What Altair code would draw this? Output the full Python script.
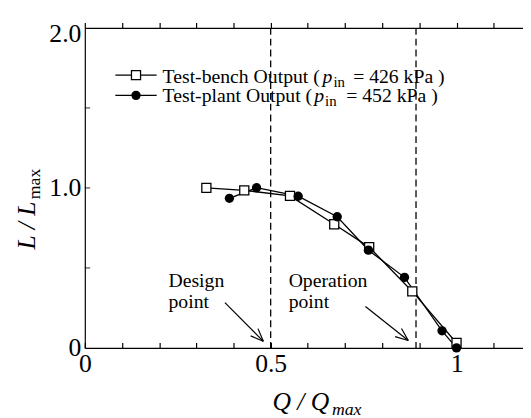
import altair as alt
import pandas as pd
import numpy as np

# ---------------- data ----------------
bench_q = [0.327, 0.429, 0.552, 0.671, 0.765, 0.881, 1.000]
bench_l = [1.000, 0.985, 0.950, 0.773, 0.630, 0.353, 0.031]
plant_q = [0.389, 0.462, 0.574, 0.679, 0.763, 0.860, 0.961, 1.000]
plant_l = [0.935, 1.001, 0.948, 0.820, 0.611, 0.441, 0.107, 0.000]
marker_q = [0.5, 0.891]                      # design / operation points

x_label_values = [0, 0.5, 1]
x_tick_values = [round(0.1 * i, 1) for i in range(12)]
y_label_values = [0, 1, 2]
y_tick_values = [0.5, 1.0, 1.5]

legend_names = ["Test-bench Output (", "Test-plant Output ("]
legend_pressures = [" = 426 kPa )", " = 452 kPa )"]
note_texts = ["Design\npoint", "Operation\npoint"]

# ---------------- layout ----------------
FONT = "Liberation Serif"
PAD_L, PAD_T, PAD_B = 78, 17, 70
W, H = 445, 325
PX_PER_Q = 377.5
PX_PER_L = 162.5
XMAX = W / PX_PER_Q


def q_at(px):
    return (px - (8 + PAD_L)) / PX_PER_Q


def l_at(py):
    return ((8 + PAD_T + H) - py) / PX_PER_L


x_scale = alt.Scale(domain=[0, XMAX], nice=False, zero=False)
y_scale = alt.Scale(domain=[0, 2], nice=False, zero=False)


def ex(field, axis=None):
    return alt.X(field, type="quantitative", scale=x_scale, axis=axis)


def ey(field, axis=None):
    return alt.Y(field, type="quantitative", scale=y_scale, axis=axis)


common_axis = dict(grid=False, title=None, domainColor="black", domainWidth=1.2,
                   tickColor="black", tickWidth=1.2)

ax_x_labels = alt.Axis(orient="bottom", values=x_label_values, format="~g", ticks=False,
                       tickSize=0, domain=True, labelFont=FONT, labelFontSize=26,
                       labelColor="black", labelPadding=3, labelFlush=False,
                       labelOverlap=False, **common_axis)
ax_y_labels = alt.Axis(orient="left", values=y_label_values,
                       labelExpr="datum.value == 0 ? '0' : format(datum.value, '.1f')",
                       ticks=False, tickSize=0, domain=True, labelFont=FONT,
                       labelFontSize=26, labelColor="black", labelPadding=4,
                       labelOverlap=False,
                       labelOffset={"condition": {"test": "datum.value == 2", "value": 6},
                                    "value": 0},
                       **common_axis)
ax_x_top = alt.Axis(orient="top", values=x_tick_values, labels=False, tickSize=5.5,
                    domain=True, **common_axis)
ax_x_bottom_ticks = alt.Axis(orient="top", offset=-H, values=x_tick_values, labels=False,
                             tickSize=5.5, domain=False, **common_axis)

bench = pd.DataFrame({"q": bench_q, "l": bench_l})
plant = pd.DataFrame({"q": plant_q, "l": plant_l})
marks_df = pd.DataFrame({"q": marker_q})

dashed = alt.Chart(marks_df).mark_rule(color="black", strokeWidth=1.3,
                                       strokeDash=[7, 4]).encode(x=ex("q", ax_x_top))

bench_line = alt.Chart(bench).mark_line(color="black", strokeWidth=1.3).encode(
    x=ex("q", ax_x_labels), y=ey("l", ax_y_labels))
plant_line = alt.Chart(plant).mark_line(color="black", strokeWidth=1.3).encode(
    x=ex("q", ax_x_bottom_ticks), y=ey("l"))
bench_pts = alt.Chart(bench).mark_point(shape="square", filled=True, fill="white",
                                        stroke="black", strokeWidth=1.3, size=85,
                                        opacity=1).encode(x=ex("q"), y=ey("l"))
plant_pts = alt.Chart(plant).mark_point(shape="circle", filled=True, color="black",
                                        size=90, opacity=1).encode(x=ex("q"), y=ey("l"))

# inward ticks on the left axis
y_ticks_layer = alt.Chart(pd.DataFrame({"l": y_tick_values})).mark_tick(
    orient="horizontal", color="black", thickness=1.2, size=5.5).encode(
    x=alt.value(2.75), y=ey("l"))

# ---------------- arrows ----------------
arrow_px = [((228.3, 304.0), (267.3, 343.3)), ((371.0, 308.0), (414.5, 342.5))]
segs = []
for (sx, sy), (tx, ty) in arrow_px:
    segs.append((sx, sy, tx, ty))
    ang = np.arctan2(sy - ty, sx - tx)
    for s in (-1, 1):
        a = ang + s * np.radians(22)
        segs.append((tx, ty, tx + 14 * np.cos(a), ty + 14 * np.sin(a)))
arrows = pd.DataFrame({
    "q": [q_at(s[0]) for s in segs], "l": [l_at(s[1]) for s in segs],
    "q2": [q_at(s[2]) for s in segs], "l2": [l_at(s[3]) for s in segs]})
arrow_layer = alt.Chart(arrows).mark_rule(color="black", strokeWidth=1.2).encode(
    x=ex("q"), y=ey("l"), x2="q2", y2="l2")

# ---------------- legend ----------------
row_y = [73, 93.5]
leg_lines = pd.DataFrame({"q": [q_at(117)] * 2, "q2": [q_at(159)] * 2,
                          "l": [l_at(y) for y in row_y]})
leg_line_layer = alt.Chart(leg_lines).mark_rule(color="black", strokeWidth=1.3).encode(
    x=ex("q"), x2="q2", y=ey("l"))
leg_bench = alt.Chart(pd.DataFrame({"q": [q_at(138)], "l": [l_at(row_y[0])]})).mark_point(
    shape="square", filled=True, fill="white", stroke="black", strokeWidth=1.3, size=85,
    opacity=1).encode(x=ex("q"), y=ey("l"))
leg_plant = alt.Chart(pd.DataFrame({"q": [q_at(138)], "l": [l_at(row_y[1])]})).mark_point(
    shape="circle", filled=True, color="black", size=90, opacity=1).encode(
    x=ex("q"), y=ey("l"))

base_y = [81, 100.5]
p_x = [327.5, 319]
in_x = [338.5, 330]
rest_x = [358.5, 351.5]


def text_layer(df, size, style=None, angle=None):
    kw = dict(align="left", baseline="alphabetic", font=FONT, fontSize=size,
              color="black", lineBreak="\n", lineHeight=21)
    if style:
        kw["fontStyle"] = style
    if angle:
        kw["angle"] = angle
    return alt.Chart(df).mark_text(**kw).encode(x=ex("q"), y=ey("l"), text="t:N")


legend_df = pd.DataFrame({
    "q": [q_at(165), q_at(165), q_at(rest_x[0]), q_at(rest_x[1])],
    "l": [l_at(base_y[0]), l_at(base_y[1]), l_at(base_y[0]), l_at(base_y[1])],
    "t": legend_names + legend_pressures})
note_df = pd.DataFrame({"q": [q_at(171), q_at(293)], "l": [l_at(288), l_at(288)],
                        "t": note_texts})
italic_df = pd.DataFrame({"q": [q_at(p_x[0]), q_at(p_x[1])],
                          "l": [l_at(base_y[0]), l_at(base_y[1])], "t": ["p", "p"]})
sub_df = pd.DataFrame({"q": [q_at(in_x[0]), q_at(in_x[1])],
                       "l": [l_at(base_y[0] + 4), l_at(base_y[1] + 4)], "t": ["in", "in"]})

# ---------------- axis titles ----------------
xt_main = pd.DataFrame({"q": [q_at(276.5)], "l": [l_at(413)], "t": ["Q / Q"]})
xt_sub = pd.DataFrame({"q": [q_at(337)], "l": [l_at(418)], "t": ["max"]})
yt_main = pd.DataFrame({"q": [q_at(35)], "l": [l_at(250)], "t": ["L / L"]})
yt_sub = pd.DataFrame({"q": [q_at(40)], "l": [l_at(199)], "t": ["max"]})

chart = alt.layer(
    dashed, bench_line, plant_line, bench_pts, plant_pts, y_ticks_layer, arrow_layer,
    leg_line_layer, leg_bench, leg_plant,
    text_layer(legend_df, 20), text_layer(note_df, 20),
    text_layer(italic_df, 20, "italic"), text_layer(sub_df, 15),
    text_layer(xt_main, 26, "italic"), text_layer(xt_sub, 18, "italic"),
    text_layer(yt_main, 26, "italic", 270), text_layer(yt_sub, 18, None, 270),
).resolve_axis(x="independent", y="independent").properties(
    width=W, height=H,
    autosize=alt.AutoSizeParams(type="none"),
    padding={"left": PAD_L, "top": PAD_T, "right": 0, "bottom": PAD_B},
    view=alt.ViewBackground(stroke="transparent", strokeWidth=0, strokeOpacity=0),
).configure_view(strokeWidth=0, stroke="transparent")

chart.save("out.html", embed_options={"renderer": "svg", "actions": False})
